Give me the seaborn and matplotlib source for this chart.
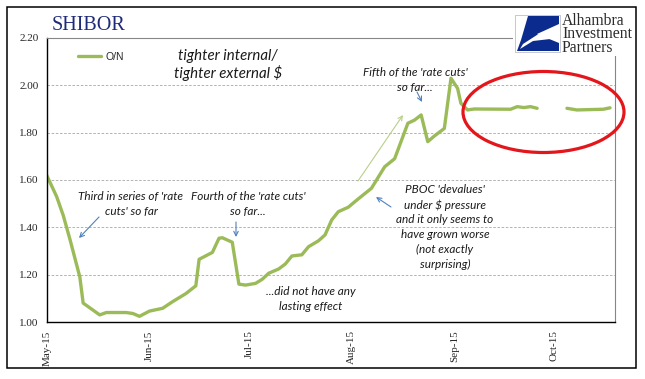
import pandas as pd
import matplotlib.pyplot as plt
from matplotlib.patches import Ellipse, Polygon, Rectangle
import seaborn as sns

# SHIBOR overnight (gap = Golden Week holiday)
dates_sep = ['2015-05-01', '2015-05-04', '2015-05-06', '2015-05-08', '2015-05-11',
             '2015-05-12', '2015-05-15', '2015-05-17', '2015-05-19', '2015-05-25',
             '2015-05-27', '2015-05-29', '2015-06-01', '2015-06-05', '2015-06-08',
             '2015-06-10', '2015-06-12', '2015-06-15', '2015-06-16', '2015-06-20',
             '2015-06-22', '2015-06-23', '2015-06-26', '2015-06-28', '2015-06-30',
             '2015-07-03', '2015-07-05', '2015-07-07', '2015-07-10', '2015-07-12',
             '2015-07-14', '2015-07-17', '2015-07-19', '2015-07-22', '2015-07-24',
             '2015-07-26', '2015-07-28', '2015-07-31', '2015-08-03', '2015-08-07',
             '2015-08-11', '2015-08-14', '2015-08-18', '2015-08-20', '2015-08-22',
             '2015-08-24', '2015-08-26', '2015-08-29', '2015-08-31', '2015-09-02',
             '2015-09-03', '2015-09-05', '2015-09-07', '2015-09-18', '2015-09-20',
             '2015-09-22', '2015-09-24', '2015-09-26']
rates_sep = [1.62, 1.53, 1.45, 1.35, 1.19,
             1.08, 1.05, 1.03, 1.04, 1.04,
             1.036, 1.024, 1.046, 1.058, 1.086,
             1.103, 1.12, 1.153, 1.265, 1.294,
             1.354, 1.356, 1.337, 1.16, 1.156,
             1.163, 1.18, 1.206, 1.224, 1.245,
             1.279, 1.284, 1.318, 1.343, 1.368,
             1.431, 1.466, 1.485, 1.52, 1.565,
             1.656, 1.69, 1.84, 1.853, 1.875,
             1.762, 1.786, 1.818, 2.03, 1.987,
             1.924, 1.896, 1.90, 1.899, 1.91,
             1.906, 1.91, 1.903]
dates_oct = ['2015-10-05', '2015-10-08', '2015-10-16', '2015-10-18']
rates_oct = [1.903, 1.896, 1.899, 1.905]

y_ticks = [1.00, 1.20, 1.40, 1.60, 1.80, 2.00, 2.20]
month_ticks = ['2015-05-01', '2015-06-01', '2015-07-01', '2015-08-01', '2015-09-01', '2015-10-01']
month_labels = ['May-15', 'Jun-15', 'Jul-15', 'Aug-15', 'Sep-15', 'Oct-15']

GREEN = '#9BBB59'
BLUE = '#4F81BD'
W, H = 645, 379


def px(x, y):
    # pixel position (from top-left) -> figure fraction
    return (x / W, 1 - y / H)


sns.set_style('white')
plt.rcParams['font.family'] = ['Liberation Serif', 'DejaVu Sans']

fig = plt.figure(figsize=(W / 100, H / 100), dpi=100)
ax = fig.add_axes([46.7 / W, 57 / H, (615 - 46.7) / W, (322 - 38) / H])

df1 = pd.DataFrame({'date': pd.to_datetime(dates_sep), 'rate': rates_sep})
df2 = pd.DataFrame({'date': pd.to_datetime(dates_oct), 'rate': rates_oct})
sns.lineplot(data=df1, x='date', y='rate', color=GREEN, lw=2.4, label='O/N', ax=ax)
sns.lineplot(data=df2, x='date', y='rate', color=GREEN, lw=2.4, ax=ax)
for ln in ax.lines:
    ln.set_solid_joinstyle('round')

ax.set_xlim(pd.Timestamp('2015-05-01'), pd.Timestamp('2015-10-19 12:00'))
ax.set_ylim(1.0, 2.2)
ax.set_xticks(pd.to_datetime(month_ticks))
ax.set_xticklabels(month_labels, rotation=90, fontsize=8)
ax.set_yticks(y_ticks)
ax.set_yticklabels([f'{v:.2f}' for v in y_ticks], fontsize=8)
ax.set_xlabel('')
ax.set_ylabel('')
ax.tick_params(axis='both', direction='out', length=4, width=0.8, color='black', pad=2)
ax.yaxis.grid(True, linestyle=(0, (3, 2)), color='#A6A6A6', lw=0.6)
ax.xaxis.grid(False)

for s in ['left', 'bottom']:
    ax.spines[s].set_color('black')
    ax.spines[s].set_linewidth(1.0)
for s in ['top', 'right']:
    ax.spines[s].set_color('#868686')
    ax.spines[s].set_linewidth(0.8)

h, l = ax.get_legend_handles_labels()
ax.legend(h[:1], l[:1], loc='center left', bbox_to_anchor=px(78, 57),
          bbox_transform=fig.transFigure, frameon=False,
          handlelength=2.2, handletextpad=0.4, borderpad=0, borderaxespad=0,
          prop={'family': 'Liberation Sans', 'size': 7.5})

# title
fig.text(*px(52, 25), 'SHIBOR', color='#1F2A7A', fontsize=14.5, va='center', ha='left')

ann_font = dict(family=['Lato', 'DejaVu Sans'], style='italic', color='#1A1A1A',
                ha='center', va='center')
fig.text(*px(228, 65), 'tighter internal/\ntighter external $', fontsize=10.8,
         linespacing=1.15, **ann_font)
fig.text(*px(131, 204), "Third in series of 'rate\ncuts' so far", fontsize=8.5,
         linespacing=1.5, **ann_font)
fig.text(*px(248, 204), "Fourth of the 'rate cuts'\nso far...", fontsize=8.5,
         linespacing=1.5, **ann_font)
fig.text(*px(311, 299), '...did not have any\nlasting effect', fontsize=8.5,
         linespacing=1.5, **ann_font)
fig.text(*px(415, 80), "Fifth of the 'rate cuts'\nso far...", fontsize=8.5,
         linespacing=1.4, **ann_font)
fig.text(*px(445, 227), "PBOC 'devalues'\nunder $ pressure\nand it only seems to\n"
         "have grown worse\n(not exactly\nsurprising)", fontsize=8.5,
         linespacing=1.42, **ann_font)

arrows = [((99, 217), (79, 238), BLUE), ((236, 222), (236, 237), BLUE),
          ((417, 92), (422, 102), BLUE), ((391, 207), (376, 197), BLUE),
          ((358, 181), (403, 115), '#B9CF8A')]
for tail, tip, c in arrows:
    ax.annotate('', xy=px(*tip), xytext=px(*tail), xycoords='figure fraction',
                textcoords='figure fraction',
                arrowprops=dict(arrowstyle='->', color=c, lw=0.8,
                                shrinkA=0, shrinkB=0, mutation_scale=8))

# red circle around the post-spike plateau
fig.patches.append(Ellipse(px(543.5, 112), 161 / W, 81 / H, transform=fig.transFigure,
                           fill=False, edgecolor='#E3161B', lw=2.3, zorder=6))

# logo block
fig.patches.append(Rectangle(px(513, 56), 122 / W, 46 / H, transform=fig.transFigure,
                             facecolor='white', edgecolor='none', zorder=5))
fig.patches.append(Rectangle(px(515, 52), 45 / W, 37 / H, transform=fig.transFigure,
                             facecolor='white', edgecolor='#BFBFBF', lw=0.6, zorder=6))
emblem = [(528, 16), (559, 16), (559, 24), (537, 34), (559, 43), (559, 51),
          (517, 51), (521, 40)]
fig.patches.append(Polygon([px(*p) for p in emblem], closed=True, transform=fig.transFigure,
                           facecolor='#0B2C8E', edgecolor='none', zorder=7))
swoosh = [(559, 30), (540, 33), (523, 44), (520, 49), (533, 41), (559, 38)]
fig.patches.append(Polygon([px(*p) for p in swoosh], closed=True, transform=fig.transFigure,
                           facecolor='white', edgecolor='none', zorder=8))
fig.text(*px(562, 34.5), 'Alhambra\nInvestment\nPartners', fontsize=11.3, color='#2B2B2B',
         ha='left', va='center', linespacing=0.82, zorder=8)

# outer frame
fig.patches.append(Rectangle(px(7, 368), 629 / W, 361 / H, transform=fig.transFigure,
                             fill=False, edgecolor='black', lw=1.1, zorder=9))

fig.savefig('out.png', dpi=100)
